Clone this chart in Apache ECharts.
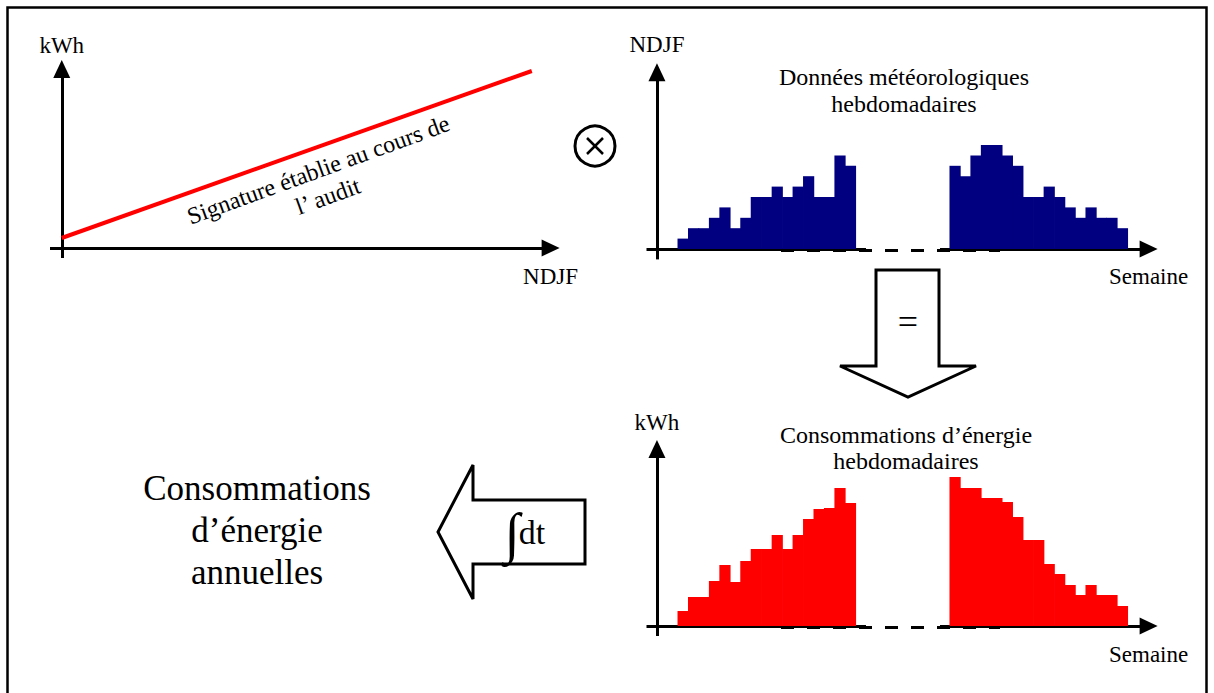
<!DOCTYPE html>
<html><head><meta charset="utf-8">
<script src="https://cdn.jsdelivr.net/npm/echarts@6/dist/echarts.min.js"></script>
<style>html,body{margin:0;padding:0;background:#fff}#c{width:1214px;height:693px}</style>
</head><body><div id="c"></div>
<script>
// ---- data ----
const signatureNDJF = [0, 100];
const signatureKWh = [10, 177];
const ndjfAutumn = [1, 2, 2, 3, 4, 2, 3, 5, 5, 6, 5, 6, 7, 5, 5, 9, 8];
const ndjfSpring = [8, 7, 9, 10, 10, 9, 8, 5, 5, 6, 5, 4, 3, 4, 3, 3, 2];
const kwhAutumn = [15, 29, 29, 45, 61, 44, 65, 77, 77, 91, 77, 91, 107, 117, 118, 138, 123];
const kwhSpring = [149, 138, 138, 128, 128, 124, 109, 86, 86, 62, 52, 41, 31, 41, 31, 31, 20];
const summerGapWeeks = 9;
const leadWeeks = 2;

// ---- helpers ----
const FONT = "Liberation Serif";
function weekly(autumn, spring) {
  const out = [];
  autumn.forEach((v, i) => out.push([leadWeeks + i + 0.5, v]));
  const s0 = leadWeeks + autumn.length + summerGapWeeks;
  spring.forEach((v, i) => out.push([s0 + i + 0.5, v]));
  return out;
}
function axLine() {
  return { show: true, onZero: true, symbol: ['none', 'triangle'], symbolSize: [17, 18],
           lineStyle: { color: '#000', width: 3, cap: 'butt' } };
}
function xAx(grid, min, max, name, pad) {
  return { type: 'value', gridIndex: grid, min: min, max: max, axisLine: axLine(),
    axisTick: { show: false }, axisLabel: { show: false }, splitLine: { show: false },
    name: name, nameLocation: 'end', nameGap: 0,
    nameTextStyle: { fontFamily: FONT, fontSize: 23, color: '#000', align: 'center', verticalAlign: 'top', padding: [pad, 0, 0, 0] } };
}
function yAx(grid, min, max, name, gap) {
  return { type: 'value', gridIndex: grid, min: min, max: max, axisLine: axLine(),
    axisTick: { show: false }, axisLabel: { show: false }, splitLine: { show: false },
    name: name, nameLocation: 'end', nameGap: gap,
    nameTextStyle: { fontFamily: FONT, fontSize: 23, color: '#000', align: 'center', verticalAlign: 'bottom' } };
}
const txt = (x, y, text, size, extra) => Object.assign({ type: 'text', x: x, y: y, z: 20,
  style: Object.assign({ text: text, fontFamily: FONT, fontSize: size, fill: '#000', align: 'center', verticalAlign: 'middle' }, extra || {}) });

function gapOverlay(baseY) {
  return [
    { type: 'rect', z: 10, shape: { x: 866, y: baseY - 3, width: 74, height: 7 }, style: { fill: '#fff' } },
    { type: 'line', z: 11, shape: { x1: 781, y1: baseY + 1.5, x2: 1000, y2: baseY + 1.5 },
      style: { stroke: '#000', lineWidth: 3, lineDash: [13, 13] } }
  ];
}

const chart = echarts.init(document.getElementById('c'), null, { renderer: 'svg' });
chart.setOption({
  animation: false,
  backgroundColor: '#fff',
  grid: [
    { left: 50, top: 69, width: 500.6, height: 189 },
    { left: 646.5, top: 72.2, width: 502.1, height: 187.2 },
    { left: 646.5, top: 449, width: 502.1, height: 187 }
  ],
  xAxis: [
    xAx(0, -2.5, 104, 'NDJF', 17),
    xAx(1, -1, 47, 'Semaine', 16),
    xAx(2, -1, 47, 'Semaine', 17)
  ],
  yAxis: [
    yAx(0, -10, 179, 'kWh', 12),
    yAx(1, -1, 17, 'NDJF', 16),
    yAx(2, -10, 177, 'kWh', 15)
  ],
  series: [
    { type: 'line', xAxisIndex: 0, yAxisIndex: 0, symbol: 'none',
      data: signatureNDJF.map((x, i) => [x, signatureKWh[i]]),
      lineStyle: { color: '#ff0000', width: 4 } },
    { type: 'bar', xAxisIndex: 1, yAxisIndex: 1, barWidth: 11.2,
      data: weekly(ndjfAutumn, ndjfSpring), itemStyle: { color: '#000080' } },
    { type: 'bar', xAxisIndex: 2, yAxisIndex: 2, barWidth: 11.2,
      data: weekly(kwhAutumn, kwhSpring), itemStyle: { color: '#ff0000' } }
  ],
  graphic: [
    // frame
    { type: 'polyline', z: 1, shape: { points: [[7.5, 720], [7.5, 7.5], [1206.5, 7.5], [1206.5, 720]] },
      style: { stroke: '#000', lineWidth: 2.5, fill: null } },
    // product sign
    { type: 'circle', z: 20, shape: { cx: 595, cy: 146, r: 20 }, style: { stroke: '#000', lineWidth: 3, fill: null } },
    { type: 'line', z: 20, shape: { x1: 587, y1: 138, x2: 603, y2: 154 }, style: { stroke: '#000', lineWidth: 2.5 } },
    { type: 'line', z: 20, shape: { x1: 603, y1: 138, x2: 587, y2: 154 }, style: { stroke: '#000', lineWidth: 2.5 } },
    // down arrow "="
    { type: 'polygon', z: 20, shape: { points: [[876, 270], [939, 270], [939, 366], [976, 366], [908, 397], [840, 366], [876, 366]] },
      style: { stroke: '#000', lineWidth: 3, fill: '#fff', lineJoin: 'miter' } },
    txt(908, 322, '=', 36),
    // left arrow "∫dt"
    { type: 'polygon', z: 20, shape: { points: [[438, 532], [473, 465], [473, 500], [585, 500], [585, 564], [473, 564], [473, 599]] },
      style: { stroke: '#000', lineWidth: 3, fill: '#fff', lineJoin: 'miter' } },
    txt(512, 533, '∫', 56),
    txt(532, 532, 'dt', 34),
    // texts
    txt(257, 530, 'Consommations\nd’énergie\nannuelles', 35, { lineHeight: 42 }),
    txt(904, 90.5, 'Données météorologiques\nhebdomadaires', 24, { lineHeight: 27 }),
    txt(906, 448, 'Consommations d’énergie\nhebdomadaires', 24, { lineHeight: 26 }),
    Object.assign(txt(323, 183, 'Signature établie au cours de\nl’ audit', 24, { lineHeight: 28 }), { rotation: 20 * Math.PI / 180 })
  ].concat(gapOverlay(249), gapOverlay(626))
});
</script></body></html>
